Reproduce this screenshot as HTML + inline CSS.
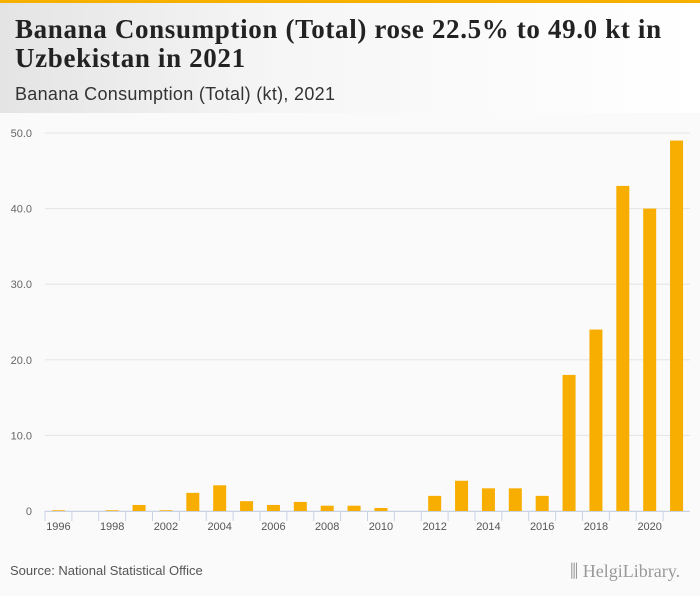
<!DOCTYPE html>
<html><head><meta charset="utf-8"><style>
body{margin:0;width:700px;height:596px;background:#fafafa;font-family:"Liberation Sans",sans-serif;position:relative;overflow:hidden}
#hdr{position:absolute;left:0;top:0;width:700px;height:113px;background:linear-gradient(90deg,#e4e4e4,#f6f6f6 40%,#fff);border-top:3px solid #f5b000;box-sizing:border-box}
h1{position:absolute;left:15px;top:12px;margin:0;font-family:"Liberation Serif",serif;font-weight:bold;font-size:27px;letter-spacing:0.65px;line-height:29px;color:#222;width:685px}
#sub{position:absolute;left:15px;top:81px;font-size:18px;letter-spacing:0.3px;color:#333}
#src{position:absolute;left:10px;top:563px;font-size:13px;color:#555}
#logo{position:absolute;left:570px;top:561px;font-size:18px;color:#999;font-family:"Liberation Serif",serif}
</style></head><body>
<div id="hdr">
<h1>Banana Consumption (Total) rose 22.5% to 49.0 kt in Uzbekistan in 2021</h1>
<div id="sub">Banana Consumption (Total) (kt), 2021</div>
</div>
<svg id="chart" width="700" height="596" style="position:absolute;left:0;top:0"></svg>
<div id="src">Source: National Statistical Office</div>
<div id="logo">⫼ HelgiLibrary.</div>
<script>
const categories=["1996","1997","1998","1999","2002","2003","2004","2005","2006","2007","2008","2009","2010","2011","2012","2013","2014","2015","2016","2017","2018","2019","2020","2021"];
const values=[0.1,0,0.1,0.8,0.1,2.4,3.4,1.3,0.8,1.2,0.7,0.7,0.4,0,2.0,4.0,3.0,3.0,2.0,18.0,24.0,43.0,40.0,49.0];
const yTicks=[0,10,20,30,40,50];
const yTickLabels=["0","10.0","20.0","30.0","40.0","50.0"];
const svg=document.getElementById('chart');
const NS='http://www.w3.org/2000/svg';
const x0=45,x1=690,y0=511,y1=133,yMax=50;
const bw=(x1-x0)/categories.length;
const y=v=>y0-(v/yMax)*(y0-y1);
const xc=i=>x0+bw*(i+0.5);
function mk(t,a){const e=document.createElementNS(NS,t);for(const k in a)e.setAttribute(k,a[k]);svg.appendChild(e);return e;}
yTicks.forEach((t,i)=>{
 const g=mk('line',{x1:x0,x2:x1,y1:y(t),y2:y(t),stroke:'#e4e4e4','stroke-width':1});
 
 
 const l=mk('text',{x:32,y:y(t)+4,'text-anchor':'end','font-size':11,fill:'#666','font-family':'Liberation Sans'});
 l.textContent=yTickLabels[i];
 
 
});
const ax=mk('line',{x1:x0,x2:x1,y1:y0+0.5,y2:y0+0.5,stroke:'#c8d3e6','stroke-width':1});


categories.forEach((c,i)=>{
 const h=y0-y(values[i]);
 const b=mk('rect',{x:xc(i)-6.5,y:y(values[i]),width:13,height:h,fill:'#f7ae00'});
 
 
 const tk=mk('line',{x1:x0+bw*i,x2:x0+bw*i,y1:y0,y2:y0+10,stroke:'#c8d3e6'});
 
 
 if(i%2===0){
  const l=mk('text',{x:xc(i),y:y0+19,'text-anchor':'middle','font-size':11,fill:'#555','font-family':'Liberation Sans'});
  l.textContent=c;
  
  
 }
});
</script>
</body></html>
